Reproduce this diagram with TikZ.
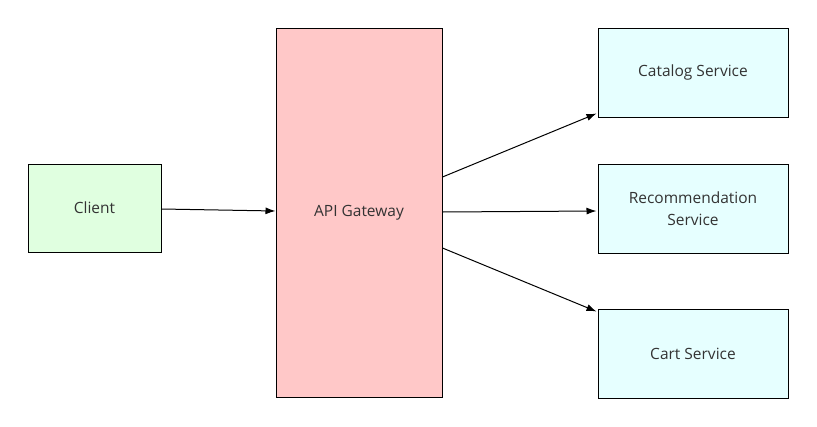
\documentclass[tikz,border=0pt]{standalone}
\usepackage{fontspec}
\setmainfont{Open Sans}
\usetikzlibrary{arrows.meta,positioning}
\definecolor{clientfill}{HTML}{E0FFE0}
\definecolor{gwfill}{HTML}{FFC8C8}
\definecolor{svcfill}{HTML}{E6FFFF}
\definecolor{txt}{HTML}{333333}
\tikzset{
  box/.style={draw=black, line width=1pt, inner sep=0pt, align=center, font=\fontsize{15.5}{22}\selectfont, text=txt},
  conn/.style={draw=black, line width=1pt, -{Latex[length=10pt,width=7pt]}}
}
\begin{document}
\begin{tikzpicture}[x=1pt,y=-1pt]
\useasboundingbox[fill=white] (0,0) rectangle (817,426);
\node[box, fill=clientfill, minimum width=133pt, minimum height=88pt] (client) at (94.5,208) {Client};
\node[box, fill=gwfill, minimum width=166pt, minimum height=369pt] (gw) at (359,212.5) {API Gateway};
\node[box, fill=svcfill, minimum width=190pt, minimum height=89pt] (cat) at (693,72.5) {Catalog Service};
\node[box, fill=svcfill, minimum width=190pt, minimum height=89pt] (rec) at (693,208.5) {Recommendation\\Service};
\node[box, fill=svcfill, minimum width=190pt, minimum height=89pt] (cart) at (693,353.5) {Cart Service};
\draw[conn] ([yshift=-1pt]client.east) -- ([yshift=1.5pt]gw.west);
\draw[conn] ([yshift=35.5pt]gw.east) -- ([xshift=-1pt,yshift=4pt]cat.south west);
\draw[conn] ([yshift=0.5pt]gw.east) -- ([xshift=-1pt,yshift=-2.5pt]rec.west);
\draw[conn] ([yshift=-35.5pt]gw.east) -- ([xshift=-1pt,yshift=-3pt]cart.north west);
\end{tikzpicture}
\end{document}
